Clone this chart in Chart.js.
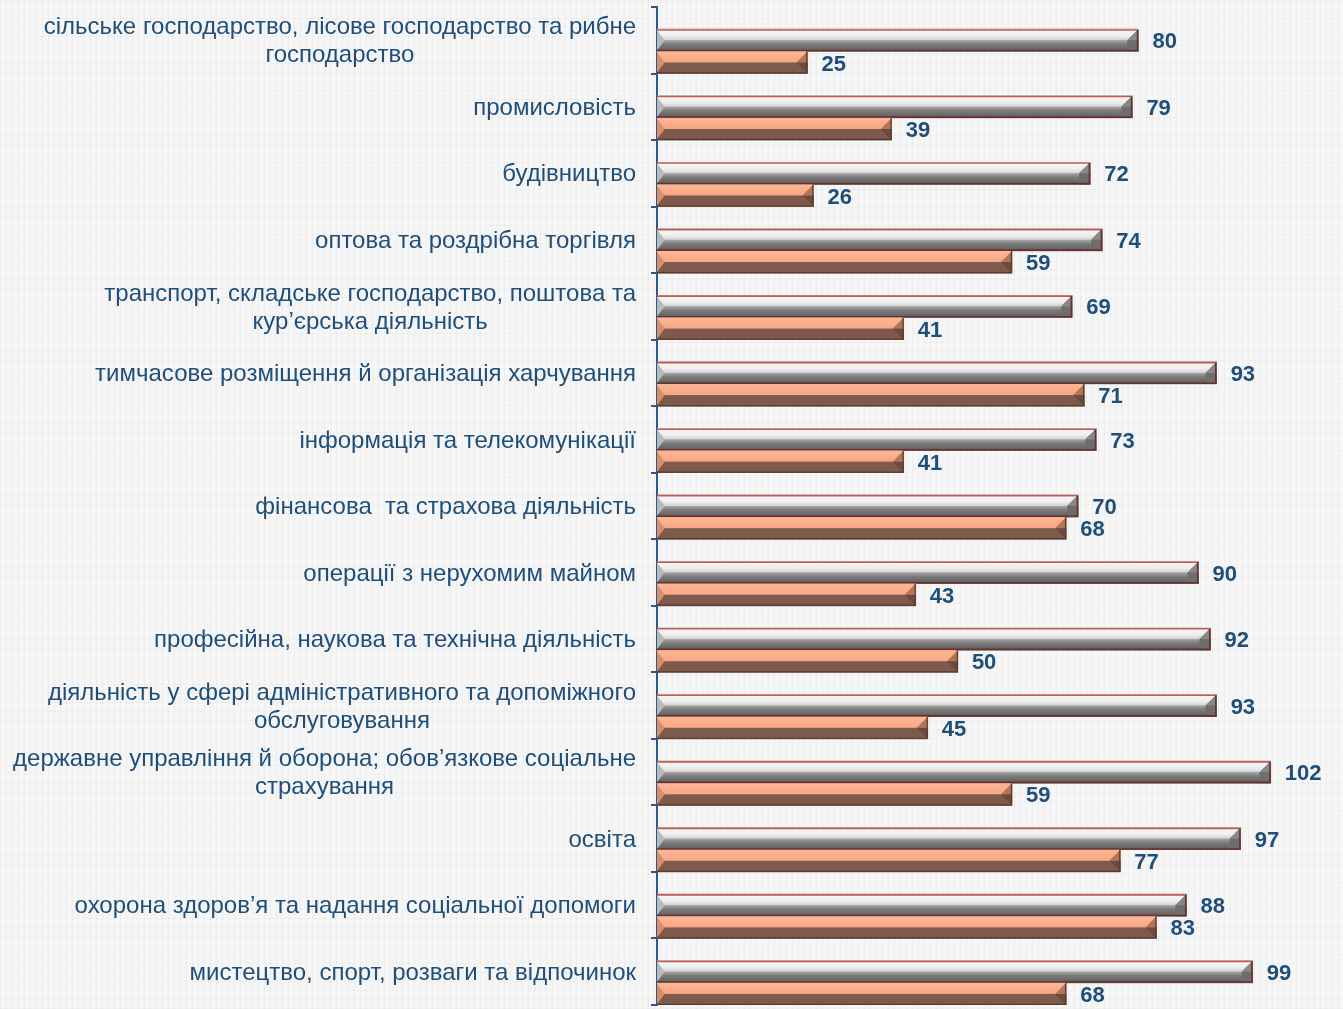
<!DOCTYPE html>
<html>
<head>
<meta charset="utf-8">
<script src="https://cdn.jsdelivr.net/npm/chart.js@4"></script>
<style>
html,body{margin:0;padding:0;width:1343px;height:1009px;overflow:hidden;}
body{
  background-color:#f6f6f6;
  background-image:
    repeating-linear-gradient(90deg, rgba(190,195,200,0.16) 0px, rgba(190,195,200,0.16) 1px, transparent 1px, transparent 6px),
    repeating-linear-gradient(0deg, rgba(200,203,206,0.14) 0px, rgba(200,203,206,0.14) 1px, transparent 1px, transparent 9px);
}
#wrap{position:absolute;left:0;top:0;width:1343px;height:1009px;}
</style>
</head>
<body>
<div id="wrap"><canvas id="c"></canvas></div>
<script>
const categories = [
  ["сільське господарство, лісове господарство та рибне", "господарство"],
  ["промисловість"],
  ["будівництво"],
  ["оптова та роздрібна торгівля"],
  ["транспорт, складське господарство, поштова та", "кур’єрська діяльність"],
  ["тимчасове розміщення й організація харчування"],
  ["інформація та телекомунікації"],
  ["фінансова  та страхова діяльність"],
  ["операції з нерухомим майном"],
  ["професійна, наукова та технічна діяльність"],
  ["діяльність у сфері адміністративного та допоміжного", "обслуговування"],
  ["державне управління й оборона; обов’язкове соціальне", "страхування"],
  ["освіта"],
  ["охорона здоров’я та надання соціальної допомоги"],
  ["мистецтво, спорт, розваги та відпочинок"]
];
const seriesGray   = [80, 79, 72, 74, 69, 93, 73, 70, 90, 92, 93, 102, 97, 88, 99];
const seriesOrange = [25, 39, 26, 59, 41, 71, 41, 68, 43, 50, 45, 59, 77, 83, 68];
const spacer = categories.map(() => null);

const TEXT_BLUE = '#1F4E79';
const AXIS_RIGHT = 657;

const bevelPlugin = {
  id: 'bevel',
  afterDatasetsDraw(chart) {
    const ctx = chart.ctx;
    [1, 2].forEach(di => {
      const meta = chart.getDatasetMeta(di);
      meta.data.forEach(el => {
        const p = el.getProps(['x', 'y', 'base', 'height'], true);
        const left = Math.min(p.base, p.x), right = Math.max(p.base, p.x);
        const top = p.y - p.height / 2, bottom = p.y + p.height / 2;
        const h = bottom - top, mid = top + h / 2, w = right - left;
        const b = Math.min(h / 2, w / 2);
        ctx.save();
        if (di === 1) {
          let g = ctx.createLinearGradient(0, mid, 0, bottom);
          g.addColorStop(0, '#a6a6a6'); g.addColorStop(0.35, '#7c7c7c'); g.addColorStop(1, '#5c5c5c');
          ctx.fillStyle = g; ctx.fillRect(left, mid, w, bottom - mid);
          g = ctx.createLinearGradient(0, top, 0, mid);
          g.addColorStop(0, '#f7f7f7'); g.addColorStop(0.6, '#efefef'); g.addColorStop(1, '#d2d2d2');
          ctx.fillStyle = g; ctx.fillRect(left, top, w, mid - top);
          ctx.beginPath(); ctx.moveTo(right, top); ctx.lineTo(right, bottom); ctx.lineTo(right - b, bottom); ctx.lineTo(right - b, mid); ctx.closePath();
          ctx.fillStyle = '#6d6d6d'; ctx.fill();
          ctx.beginPath(); ctx.moveTo(right, top); ctx.lineTo(right - b, mid); ctx.lineTo(right, mid); ctx.closePath();
          ctx.fillStyle = '#888888'; ctx.fill();
          ctx.beginPath(); ctx.moveTo(left, top + 1); ctx.lineTo(left + b * 0.7, mid); ctx.lineTo(left, bottom - 1); ctx.closePath();
          ctx.fillStyle = '#b9b9b9'; ctx.fill();
          ctx.lineWidth = 1.6;
          ctx.strokeStyle = '#c55a55';
          ctx.beginPath(); ctx.moveTo(left, top + 0.8); ctx.lineTo(right - 0.8, top + 0.8); ctx.stroke();
          ctx.strokeStyle = '#6b2f2c';
          ctx.beginPath(); ctx.moveTo(right - 0.8, top + 0.8); ctx.lineTo(right - 0.8, bottom - 0.8); ctx.lineTo(left, bottom - 0.8); ctx.stroke();
        } else {
          ctx.fillStyle = '#7d5a4b'; ctx.fillRect(left, mid, w, bottom - mid);
          let g = ctx.createLinearGradient(0, top, 0, mid);
          g.addColorStop(0, '#fdb795'); g.addColorStop(1, '#f8a684');
          ctx.fillStyle = g; ctx.fillRect(left, top, w, mid - top);
          ctx.beginPath(); ctx.moveTo(right, top); ctx.lineTo(right - b, mid); ctx.lineTo(right, mid); ctx.closePath();
          ctx.fillStyle = '#b27558'; ctx.fill();
          ctx.beginPath(); ctx.moveTo(right, mid); ctx.lineTo(right - b, mid); ctx.lineTo(right, bottom); ctx.closePath();
          ctx.fillStyle = '#6c4b3e'; ctx.fill();
          ctx.beginPath(); ctx.moveTo(left, top + 1); ctx.lineTo(left + b * 0.7, mid); ctx.lineTo(left, bottom - 1); ctx.closePath();
          ctx.fillStyle = '#d88e6c'; ctx.fill();
          ctx.lineWidth = 1.2;
          ctx.strokeStyle = '#5a3a2e';
          ctx.beginPath(); ctx.moveTo(right - 0.6, top); ctx.lineTo(right - 0.6, bottom - 0.6); ctx.lineTo(left, bottom - 0.6); ctx.stroke();
        }
        ctx.restore();
      });
    });
  }
};

const labelPlugin = {
  id: 'labels',
  afterDraw(chart) {
    const ctx = chart.ctx;
    ctx.save();
    ctx.font = 'bold 22px "Liberation Sans", Arial, sans-serif';
    ctx.fillStyle = TEXT_BLUE;
    ctx.textAlign = 'left';
    ctx.textBaseline = 'middle';
    [1, 2].forEach(di => {
      const meta = chart.getDatasetMeta(di);
      const data = chart.data.datasets[di].data;
      meta.data.forEach((el, i) => {
        const p = el.getProps(['x', 'y'], true);
        ctx.fillText(String(data[i]), p.x + 14, p.y + 2);
      });
    });
    const ys = chart.scales.y;
    ctx.font = '24px "Liberation Sans", Arial, sans-serif';
    ctx.textAlign = 'center';
    const lineH = 28;
    categories.forEach((lines, i) => {
      const cy = ys.getPixelForValue(i) + 1.5;
      const maxW = Math.max(...lines.map(l => ctx.measureText(l).width));
      const cx = 636 - maxW / 2;
      const y0 = cy - (lines.length - 1) * lineH / 2;
      lines.forEach((l, k) => ctx.fillText(l, cx, y0 + k * lineH));
    });
    ctx.restore();
  }
};

new Chart(document.getElementById('c'), {
  type: 'bar',
  data: {
    labels: categories,
    datasets: [
      { label: '', data: spacer, backgroundColor: 'rgba(0,0,0,0)' },
      { label: 'Ряд 1', data: seriesGray, backgroundColor: '#7f7f7f', borderWidth: 0 },
      { label: 'Ряд 2', data: seriesOrange, backgroundColor: '#7d5a4b', borderWidth: 0 }
    ]
  },
  options: {
    indexAxis: 'y',
    responsive: true,
    maintainAspectRatio: false,
    animation: false,
    datasets: { bar: { categoryPercentage: 1.0, barPercentage: 1.0 } },
    layout: { padding: { top: 7, bottom: 4, left: 0, right: 0 } },
    plugins: { legend: { display: false }, tooltip: { enabled: false } },
    scales: {
      x: { display: false, min: 0, max: 114 },
      y: {
        ticks: { display: false },
        grid: { offset: true, drawOnChartArea: false, drawTicks: true, tickLength: 6, color: '#2a5a8a', lineWidth: 2 },
        border: { display: true, color: '#2a5a8a', width: 2 },
        afterFit(scale) { scale.width = AXIS_RIGHT; }
      }
    }
  },
  plugins: [bevelPlugin, labelPlugin]
});
</script>
</body>
</html>
